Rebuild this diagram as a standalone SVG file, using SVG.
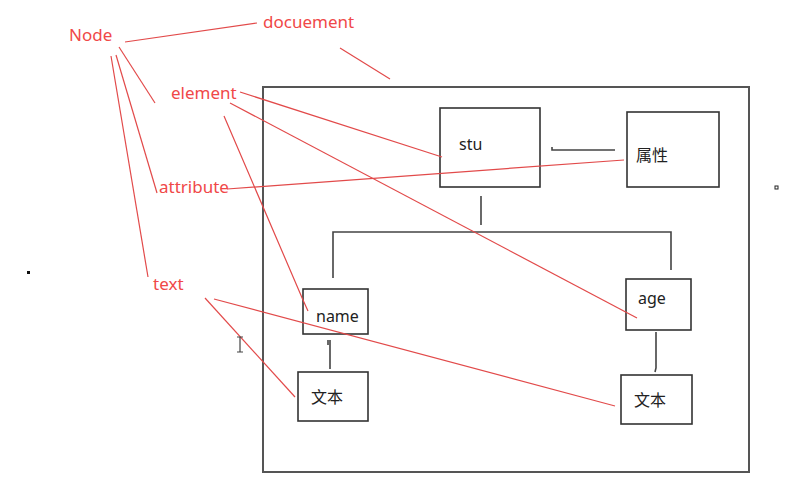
<svg xmlns="http://www.w3.org/2000/svg" width="801" height="500" viewBox="0 0 801 500">
<style>
.box{fill:#fff;stroke:#333;stroke-width:1.6}
.frame{fill:none;stroke:#555;stroke-width:2}
.blk{stroke:#444;stroke-width:1.6;fill:none}
.red{stroke:#e24a4a;stroke-width:1.2;fill:none}
.lbl{font-family:"Noto Sans","Open Sans",sans-serif;font-size:17px;fill:#f04848}
.t{font-family:"Noto Sans","Noto Sans CJK SC",sans-serif;font-size:16px;fill:#222}
</style>
<rect width="801" height="500" fill="#fff"/>
<g id="document-frame"><rect class="frame" x="263" y="87" width="486" height="385"/></g>
<g id="connectors">
<path class="blk" d="M552 147 V150 H615"/>
<path class="blk" d="M481 196 V225"/>
<path class="blk" d="M333 278 V232 H671 V270"/>
<path class="blk" d="M328 340 V345 M330 340 V369"/>
<path class="blk" d="M656 332 V368 L655 372"/>
</g>
<g id="stu"><rect class="box" x="440" y="108" width="100" height="79"/><text class="t" x="459" y="150">stu</text></g>
<g id="attr"><rect class="box" x="627" y="112" width="92" height="75"/><text class="t" x="636" y="161">属性</text></g>
<g id="name"><rect class="box" x="303" y="289" width="65" height="45"/><text class="t" x="316" y="322">name</text></g>
<g id="age"><rect class="box" x="626" y="279" width="65" height="51"/><text class="t" x="638" y="304">age</text></g>
<g id="text1"><rect class="box" x="298" y="372" width="70" height="49"/><text class="t" x="311" y="403">文本</text></g>
<g id="text2"><rect class="box" x="621" y="375" width="71" height="49"/><text class="t" x="634" y="406">文本</text></g>
<g id="annotations">
<path class="red" d="M125 42 L257 23"/>
<path class="red" d="M340 48 L390 79"/>
<path class="red" d="M119 47 L155 103"/>
<path class="red" d="M116 55 L157 193"/>
<path class="red" d="M111 56 L148 277"/>
<path class="red" d="M240 92 L442 157"/>
<path class="red" d="M230 103 L637 318"/>
<path class="red" d="M224 116 L303 300 L308 311"/>
<path class="red" d="M227 189 L624 160"/>
<path class="red" d="M205 298 L295 397"/>
<path class="red" d="M214 299 L615 406"/>
<text class="lbl" x="69" y="41">Node</text>
<text class="lbl" x="263" y="28">docuement</text>
<text class="lbl" x="171" y="99">element</text>
<text class="lbl" x="159" y="193">attribute</text>
<text class="lbl" x="153" y="290">text</text>
</g>
<g id="marks">
<rect x="27" y="271" width="3" height="3" fill="#111"/>
<rect x="775" y="186" width="3" height="3" fill="none" stroke="#222" stroke-width="1"/>
<path d="M237 337 H243 M240 337 V352 M237 352 H243" stroke="#444" stroke-width="1.2" fill="none"/>
</g>
</svg>
